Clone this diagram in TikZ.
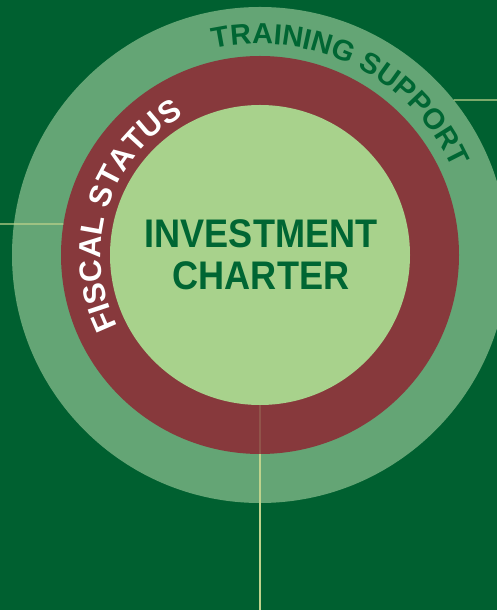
\documentclass[tikz,border=0pt]{standalone}
\usepackage{fontspec}
\setmainfont{Liberation Sans}
\usetikzlibrary{decorations.text}
\definecolor{bgc}{RGB}{0,96,48}
\definecolor{outerc}{RGB}{100,165,117}
\definecolor{redc}{RGB}{135,57,60}
\definecolor{innerc}{RGB}{168,210,140}
\definecolor{txtc}{RGB}{0,102,51}
\definecolor{linec}{RGB}{190,210,140}
\begin{document}
\begin{tikzpicture}[x=1pt,y=1pt,
  disc/.style={circle,inner sep=0pt,outer sep=0pt,draw=none},
  leader/.style={draw=linec,line width=1.3pt}]
\useasboundingbox (0,0) rectangle (497,610);
\fill[bgc] (0,0) rectangle (497,610);
\node[disc,fill=outerc,minimum size=496pt] (outer) at (260,355) {};
\node[disc,fill=redc,minimum size=398pt] (ring) at (260,355) {};
\node[disc,fill=innerc,minimum size=300pt] (inner) at (260,355) {};
% leader lines
\coordinate (lend) at (0,386);
\coordinate (rend) at (497,510);
\coordinate (bend) at (260,0);
\path (ring.center) ++(171.04:199) coordinate (lstart);
\path (outer.center) ++(38.68:248) coordinate (rstart);
\draw[leader] (lend) -- (lstart);
\draw[leader] (rstart) -- (rend);
\draw[leader] (ring.south) -- (bend);
\draw[leader,draw opacity=0.18] (inner.south) -- (ring.south);
% center text
\node[text=txtc,font=\bfseries\fontsize{38}{44}\selectfont,align=center] (title) at (261,355)
  {\scalebox{0.95}[1.05]{INVESTMENT}\\[-2pt]\scalebox{0.95}[1.05]{CHARTER}};
% curved texts
\path[decorate,decoration={text along path,text align=center,
  text format delimiters={|}{|},
  text={|\bfseries\fontsize{29}{29}\selectfont\color{txtc}|TRAINING SUPPORT}}]
  (260,355) ++(123.5:211) arc[start angle=123.5,end angle=3.5,radius=211];
\path[decorate,decoration={text along path,text align=center,
  text format delimiters={|}{|},
  text={|\bfseries\fontsize{31}{31}\selectfont\color{white}|FISCAL STATUS}}]
  (260,355) ++(222.75:159) arc[start angle=222.75,end angle=102.75,radius=159];
\end{tikzpicture}
\end{document}
